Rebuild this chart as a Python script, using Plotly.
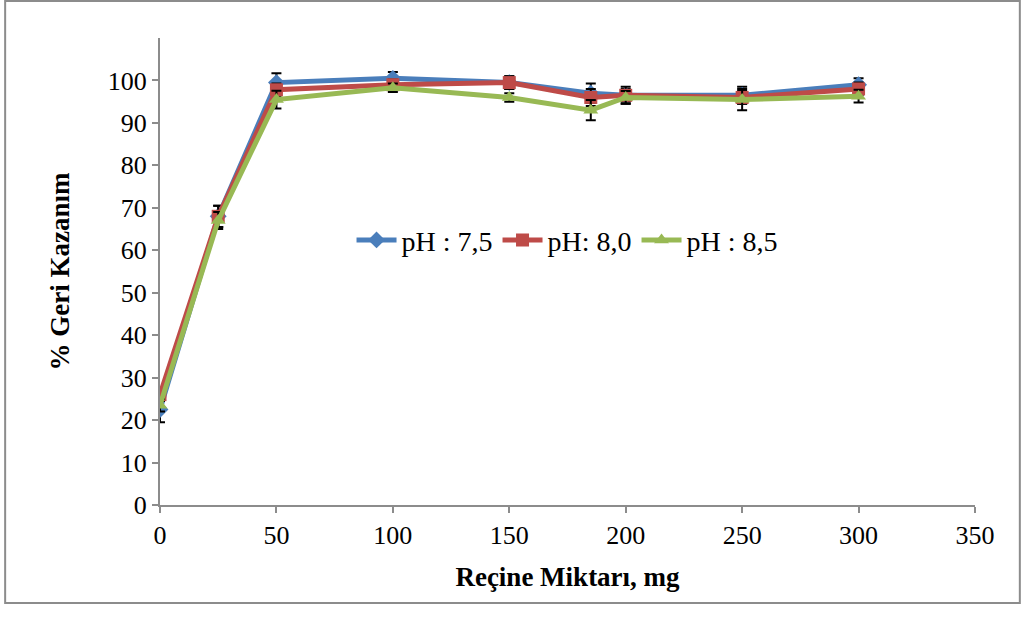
import plotly.graph_objects as go

x_mg = [0, 25, 50, 100, 150, 185, 200, 250, 300]
ph75 = [22.5, 68, 99.5, 100.5, 99.5, 97, 96.5, 96.5, 99]
ph80 = [26, 68, 97.8, 99, 99.5, 96, 96.5, 96, 98]
ph85 = [23.5, 67, 95.5, 98.3, 96, 93, 96, 95.5, 96.3]
err75 = [3, 2.5, 2.2, 1.5, 1.5, 2.3, 1.5, 2, 1.5]
err80 = [1.5, 2.5, 1.5, 1.2, 1.5, 2, 2, 1.5, 1.5]
err85 = [1.5, 2, 2.1, 1, 1, 2.4, 1.5, 2.5, 1.5]
names = ["pH : 7,5", "pH: 8,0", "pH : 8,5"]
colors = ["#4A7EBB", "#BE4B48", "#98B954"]
symbols = ["diamond", "square", "triangle-up"]

fig = go.Figure()
for y, e, n, c, s in zip([ph75, ph80, ph85], [err75, err80, err85], names, colors, symbols):
    fig.add_trace(go.Scatter(
        x=x_mg, y=y, name=n, mode="lines+markers",
        line=dict(color=c, width=5),
        marker=dict(symbol=s, size=13, color=c),
        error_y=dict(type="data", array=e, visible=True, color="black", thickness=2, width=5),
    ))

axis_common = dict(
    showline=True, linecolor="#8C8C8C", linewidth=2,
    ticks="outside", tickcolor="#8C8C8C", ticklen=6, tickwidth=2,
    showgrid=False, zeroline=False,
    tickfont=dict(family="Liberation Serif", size=26, color="black"),
)
fig.update_xaxes(range=[0, 350], tickvals=[0, 50, 100, 150, 200, 250, 300, 350],
                 title=dict(text="<b>Reçine Miktarı, mg</b>", font=dict(family="Liberation Serif", size=27, color="black"), standoff=18),
                 **axis_common)
fig.update_yaxes(range=[0, 110], tickvals=list(range(0, 101, 10)),
                 title=dict(text="<b>% Geri Kazanım</b>", font=dict(family="Liberation Serif", size=27, color="black"), standoff=30),
                 **axis_common)

fig.update_layout(
    width=1024, height=621,
    margin=dict(l=160, r=49, t=38, b=116),
    paper_bgcolor="white", plot_bgcolor="white",
    legend=dict(orientation="h", x=0.235, y=0.567, xanchor="left", yanchor="middle",
                font=dict(family="Liberation Serif", size=28, color="black"),
                bgcolor="rgba(0,0,0,0)", itemwidth=40),
    shapes=[dict(type="rect", xref="paper", yref="paper",
                 x0=-0.190, x1=1.055, y0=-0.21, y1=1.079,
                 line=dict(color="#8C8C8C", width=2), layer="below")],
)

fig.write_html("out.html", config={"displayModeBar": False},
               post_script="document.body.style.margin='0px';")
